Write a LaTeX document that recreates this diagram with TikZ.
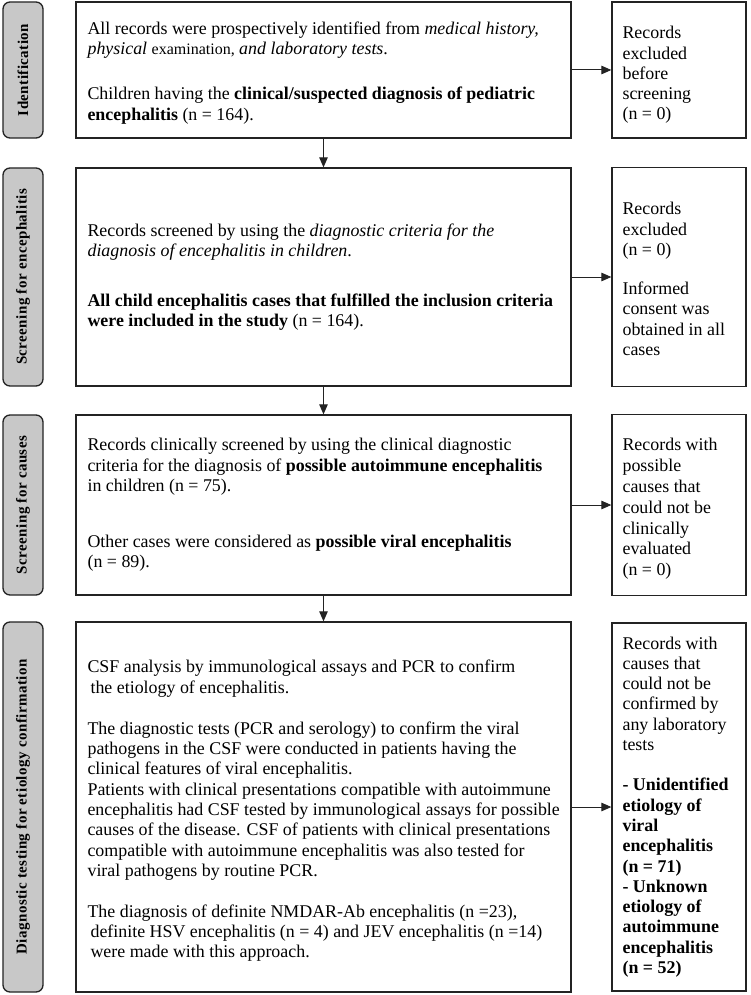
\documentclass[tikz,border=0pt]{standalone}
\usepackage{fontspec}
\setmainfont{Liberation Serif}
\newfontfamily\sidefont[LetterSpace=3]{Liberation Serif}
\usetikzlibrary{arrows.meta}
\definecolor{sidegray}{RGB}{200,200,200}
\definecolor{linec}{RGB}{35,35,35}
\begin{document}
\begin{tikzpicture}[x=1pt,y=-1pt,
  box/.style={draw=linec, line width=1.3pt, minimum width=495pt, inner sep=0pt},
  rbox/.style={draw=linec, line width=1.3pt, minimum width=134pt, inner sep=0pt},
  side/.style={draw=linec, fill=sidegray, line width=1.3pt, rounded corners=7pt, rotate=90,
    minimum height=40pt, inner sep=0pt, font=\sidefont\bfseries\fontsize{15pt}{17pt}\selectfont},
  txt/.style={anchor=west, align=left, inner sep=0pt, font=\fontsize{17.9pt}{20.3pt}\selectfont},
  arr/.style={-{Triangle[length=10pt,width=8.5pt]}, line width=1pt, draw=linec}]
\fill[white] (0,0) rectangle (750,995);
\useasboundingbox (0,0) rectangle (750,995);

% side labels
\node[side, minimum width=136pt] (s1) at (23,70) {Identification};
\node[side, minimum width=218pt] (s2) at (23,277) {Screening for encephalitis};
\node[side, minimum width=180pt] (s3) at (23,505) {Screening for causes};
\node[side, minimum width=370pt] (s4) at (23,807) {Diagnostic testing for etiology confirmation};

% main boxes
\node[box, minimum height=136pt] (m1) at (323.5,70) {};
\node[box, minimum height=218pt] (m2) at (323.5,277) {};
\node[box, minimum height=180pt] (m3) at (323.5,505) {};
\node[box, minimum height=370pt] (m4) at (323.5,807) {};

% right boxes
\node[rbox, minimum height=136pt] (r1) at (679,70) {};
\node[rbox, minimum height=219pt] (r2) at (679,277) {};
\node[rbox, minimum height=181pt] (r3) at (679,505) {};
\node[rbox, minimum height=368pt] (r4) at (679,807) {};

% main texts
\node[txt, yshift=-3pt] (t1) at ([xshift=12pt]m1.west) {All records were prospectively identified from \textit{medical history,}\\
\textit{physical} {\fontsize{16pt}{20.3pt}\selectfont examination,} \textit{and laboratory tests}.\\[24.7pt]
Children having the \textbf{clinical/suspected diagnosis of pediatric}\\
\textbf{encephalitis} (n = 164).};

\node[txt] (t2) at ([xshift=12pt]m2.west) {Records screened by using the \textit{diagnostic criteria for the}\\
\textit{diagnosis of encephalitis in children}.\\[29.7pt]
\textbf{All child encephalitis cases that fulfilled the inclusion criteria}\\
\textbf{were included in the study} (n = 164).};

\node[txt] (t3) at ([xshift=12pt]m3.west) {Records clinically screened by using the clinical diagnostic\\
criteria for the diagnosis of \textbf{possible autoimmune encephalitis}\\
in children (n = 75).\\[35.7pt]
Other cases were considered as \textbf{possible viral encephalitis}\\
(n = 89).};

\node[txt, yshift=-4pt] (t4) at ([xshift=12pt]m4.west) {CSF analysis by immunological assays and PCR to confirm\\
\kern3pt the etiology of encephalitis.\\[20.7pt]
The diagnostic tests (PCR and serology) to confirm the viral\\
pathogens in the CSF were conducted in patients having the\\
clinical features of viral encephalitis.\\
Patients with clinical presentations compatible with autoimmune\\
encephalitis had CSF tested by immunological assays for possible\\
causes of the disease. CSF of patients with clinical presentations\\
compatible with autoimmune encephalitis was also tested for\\
viral pathogens by routine PCR.\\[20.7pt]
The diagnosis of definite NMDAR-Ab encephalitis (n =23),\\
\kern3pt definite HSV encephalitis (n = 4) and JEV encephalitis (n =14)\\
\kern3pt were made with this approach.};

% right texts
\node[txt, yshift=-5pt] (u1) at ([xshift=11pt]r1.west) {Records\\excluded\\before\\screening\\(n = 0)};
\node[txt, yshift=-2pt] (u2) at ([xshift=11pt]r2.west) {Records\\excluded\\(n = 0)\\[19pt]Informed\\consent was\\obtained in all\\cases};
\node[txt, yshift=-4pt, font=\fontsize{17.9pt}{20.8pt}\selectfont] (u3) at ([xshift=11pt]r3.west) {Records with\\possible\\causes that\\could not be\\clinically\\evaluated\\(n = 0)};
\node[txt] (u4) at ([xshift=11pt]r4.west) {Records with\\causes that\\could not be\\confirmed by\\any laboratory\\tests\\[20pt]
\textbf{- Unidentified}\\\textbf{etiology of}\\\textbf{viral}\\\textbf{encephalitis}\\\textbf{(n = 71)}\\
\textbf{- Unknown}\\\textbf{etiology of}\\\textbf{autoimmune}\\\textbf{encephalitis}\\\textbf{(n = 52)}};

% arrows
\draw[arr] (m1.south) -- (m2.north);
\draw[arr] (m2.south) -- (m3.north);
\draw[arr] (m3.south) -- (m4.north);
\draw[arr] (m1.east) -- (r1.west);
\draw[arr] (m2.east) -- (r2.west);
\draw[arr] (m3.east) -- (r3.west);
\draw[arr] (m4.east) -- (r4.west);
\end{tikzpicture}
\end{document}
